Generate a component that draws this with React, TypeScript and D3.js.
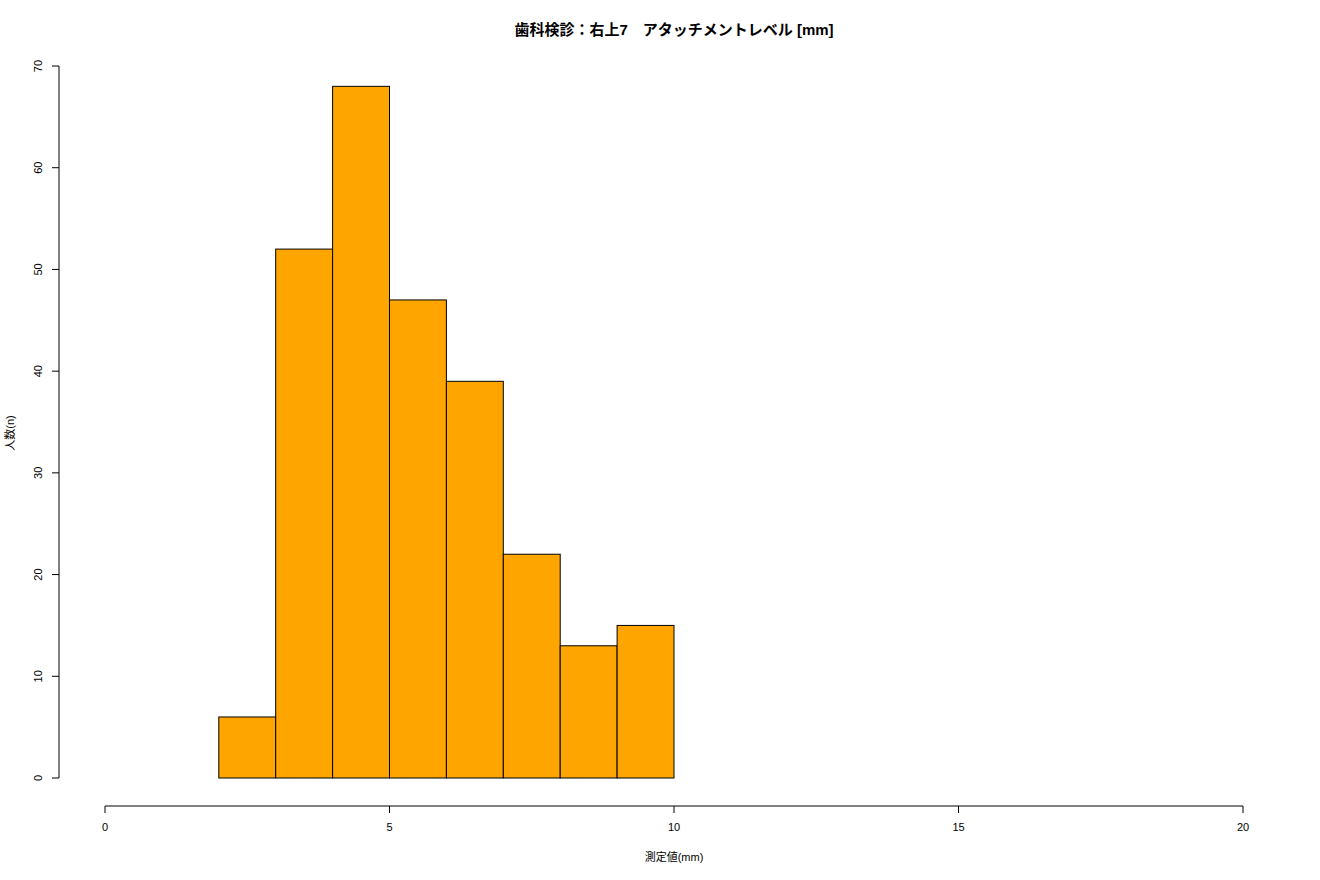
import React from "react";
import * as d3 from "d3";

const binStarts = [2, 3, 4, 5, 6, 7, 8, 9];
const counts = [6, 52, 68, 47, 39, 22, 13, 15];
const xTicks = [0, 5, 10, 15, 20];
const yTicks = [0, 10, 20, 30, 40, 50, 60, 70];
const title = "歯科検診：右上7　アタッチメントレベル [mm]";
const xLabel = "測定値(mm)";
const yLabel = "人数(n)";

const W = 1320;
const H = 880;
const font = "'Liberation Sans', Arial, 'Noto Sans CJK JP', sans-serif";

export default function App() {
  const x = d3.scaleLinear().domain([0, 20]).range([105, 1243]);
  const y = d3.scaleLinear().domain([0, 70]).range([778, 66]);
  const axisY = 59;
  const axisXY = 806;
  return (
    <svg width={W} height={H} style={{ position: "absolute", left: 0, top: 0, background: "#fff" }} fontFamily={font}>
      <text x={674} y={35} textAnchor="middle" fontSize={15} fontWeight="bold">{title}</text>
      {binStarts.map((b, i) => (
        <rect key={i} x={x(b)} y={y(counts[i])} width={x(b + 1) - x(b)} height={y(0) - y(counts[i])}
          fill="#FFA500" stroke="#000" strokeWidth={1} />
      ))}
      {/* y axis */}
      <line x1={axisY} x2={axisY} y1={y(0)} y2={y(70)} stroke="#000" />
      {yTicks.map((t) => (
        <g key={t}>
          <line x1={axisY - 7} x2={axisY} y1={y(t)} y2={y(t)} stroke="#000" />
          <text transform={`translate(${axisY - 17},${y(t)}) rotate(-90)`} textAnchor="middle" fontSize={11}>{t}</text>
        </g>
      ))}
      <text transform={`translate(14,433) rotate(-90)`} textAnchor="middle" fontSize={11}>{yLabel}</text>
      {/* x axis */}
      <line x1={x(0)} x2={x(20)} y1={axisXY} y2={axisXY} stroke="#000" />
      {xTicks.map((t) => (
        <g key={t}>
          <line x1={x(t)} x2={x(t)} y1={axisXY} y2={axisXY + 7} stroke="#000" />
          <text x={x(t)} y={axisXY + 25} textAnchor="middle" fontSize={11}>{t}</text>
        </g>
      ))}
      <text x={674} y={861} textAnchor="middle" fontSize={11}>{xLabel}</text>
    </svg>
  );
}
